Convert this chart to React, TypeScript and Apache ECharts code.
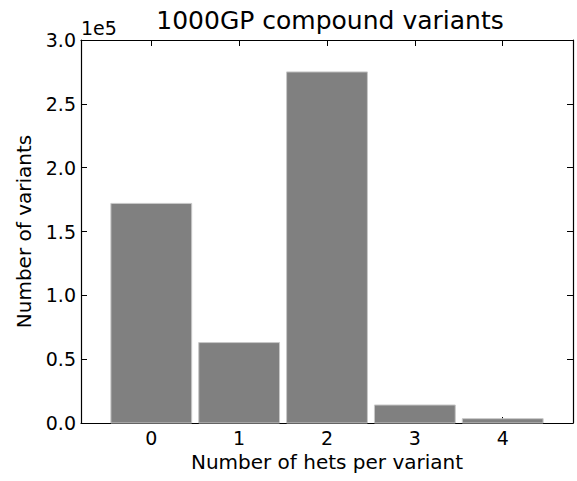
import React, { useEffect, useRef } from "react";
import * as echarts from "echarts";

const categories = [0, 1, 2, 3, 4];
const counts = [172000, 63000, 275000, 14100, 3400];
const yTicks = [0, 50000, 100000, 150000, 200000, 250000, 300000];
const titleText = "1000GP compound variants";
const xLabel = "Number of hets per variant";
const yLabel = "Number of variants";
const offsetText = "1e5";

const FONT = "DejaVu Sans";

export default function App() {
  const ref = useRef<HTMLDivElement>(null);
  useEffect(() => {
    if (!ref.current) return;
    const chart = echarts.init(ref.current, null, { renderer: "svg" });
    const gridLeft = 81;
    const gridTop = 40;
    const gridRight = 4;
    const gridBottom = 58;
    const tickStyle = { inside: true, length: 6, lineStyle: { color: "#000", width: 1 } };
    const lineStyle = { show: true, onZero: false, lineStyle: { color: "#000", width: 1.2 } };
    const halfWidth = 0.46;
    chart.setOption({
      animation: false,
      title: {
        text: titleText,
        left: 325,
        textAlign: "center",
        top: 3,
        textStyle: { fontFamily: FONT, fontSize: 25, fontWeight: "normal", color: "#000" },
      },
      graphic: [
        {
          type: "text",
          left: gridLeft,
          top: 18,
          style: { text: offsetText, font: `19px '${FONT}'`, fill: "#000" },
        },
      ],
      grid: { left: gridLeft, top: gridTop, right: gridRight, bottom: gridBottom, containLabel: false },
      xAxis: [
        {
          type: "value",
          min: -0.8,
          max: 4.8,
          position: "bottom",
          axisLine: lineStyle,
          splitLine: { show: false },
          axisTick: { ...tickStyle, customValues: categories },
          axisLabel: {
            customValues: categories,
            margin: 5,
            fontFamily: FONT,
            fontSize: 19,
            color: "#000",
            formatter: (v: number) => String(v),
          },
          name: xLabel,
          nameLocation: "middle",
          nameGap: 24,
          nameTextStyle: { fontFamily: FONT, fontSize: 20, color: "#000" },
        },
        {
          type: "value",
          min: -0.8,
          max: 4.8,
          position: "top",
          axisLine: lineStyle,
          splitLine: { show: false },
          axisTick: { ...tickStyle, customValues: categories },
          axisLabel: { show: false, customValues: categories },
        },
      ],
      yAxis: [
        {
          type: "value",
          min: 0,
          max: 300000,
          interval: 50000,
          position: "left",
          axisLine: lineStyle,
          splitLine: { show: false },
          axisTick: tickStyle,
          axisLabel: {
            margin: 5,
            fontFamily: FONT,
            fontSize: 19,
            color: "#000",
            formatter: (v: number) => (yTicks.includes(v) ? (v / 1e5).toFixed(1) : ""),
          },
          name: yLabel,
          nameLocation: "middle",
          nameGap: 47,
          nameRotate: 90,
          nameTextStyle: { fontFamily: FONT, fontSize: 20, color: "#000" },
        },
        {
          type: "value",
          min: 0,
          max: 300000,
          interval: 50000,
          position: "right",
          axisLine: lineStyle,
          splitLine: { show: false },
          axisTick: tickStyle,
          axisLabel: { show: false },
        },
      ],
      series: [
        {
          type: "custom",
          xAxisIndex: 0,
          yAxisIndex: 0,
          data: categories.map((c, i) => [c, counts[i]]),
          renderItem: (params: any, api: any) => {
            const x = api.value(0);
            const y = api.value(1);
            const p0 = api.coord([x - halfWidth, y]);
            const p1 = api.coord([x + halfWidth, 0]);
            return {
              type: "rect",
              shape: { x: p0[0], y: p0[1], width: p1[0] - p0[0], height: p1[1] - p0[1] },
              style: { fill: "#808080", stroke: "#c8c8c8", lineWidth: 1 },
            };
          },
          z: 1,
        },
      ],
    });
    return () => chart.dispose();
  }, []);
  return (
    <div
      ref={ref}
      style={{ position: "fixed", left: 0, top: 0, width: 577, height: 481, background: "#fff" }}
    />
  );
}
